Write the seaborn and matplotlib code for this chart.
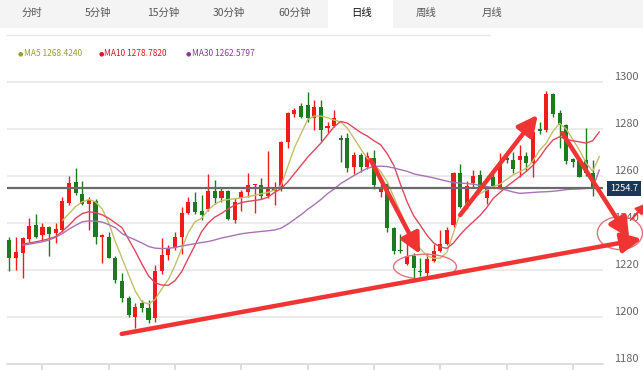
import numpy as np
import pandas as pd
import matplotlib
matplotlib.use('Agg')
import matplotlib.pyplot as plt
import matplotlib.transforms as mtransforms
from matplotlib.patches import Rectangle, Ellipse
import seaborn as sns

sns.set_style('white')
plt.rcParams['font.family'] = ['Noto Sans CJK SC', 'DejaVu Sans']

# 日线 K线数据 (开, 高, 低, 收)
open_ = [1232.8, 1225.0, 1227.1, 1233.2, 1239.1, 1234.9, 1238.2, 1235.9, 1237.0, 1248.7,
         1257.6, 1252.3, 1248.0, 1249.4, 1234.2, 1233.9, 1225.3, 1215.4, 1207.9, 1200.1,
         1206.0, 1203.7, 1199.4, 1219.6, 1226.4, 1229.2, 1234.2, 1244.4, 1248.8, 1245.1,
         1246.0, 1253.6, 1250.8, 1253.6, 1241.3, 1250.5, 1253.3, 1256.0, 1256.2, 1251.6,
         1253.8, 1254.5, 1274.6, 1286.2, 1289.9, 1290.2, 1284.5, 1289.5, 1280.3, 1281.4,
         1276.0, 1276.3, 1264.0, 1268.9, 1264.0, 1267.8, 1253.0, 1256.5, 1238.0, 1228.5,
         1222.6, 1226.1, 1219.3, 1218.9, 1224.0, 1228.2, 1230.9, 1239.1, 1261.1, 1246.9,
         1257.2, 1260.4, 1250.5, 1259.7, 1255.0, 1267.8, 1267.0, 1267.0, 1268.7, 1265.4,
         1279.9, 1279.6, 1294.8, 1286.7, 1281.7, 1267.2, 1267.0, 1266.7, 1261.1]
high = [1234.2, 1234.2, 1234.0, 1242.0, 1243.8, 1239.9, 1238.7, 1240.0, 1251.2, 1260.0,
        1263.3, 1258.0, 1251.2, 1250.1, 1235.5, 1236.3, 1226.0, 1218.6, 1209.0, 1205.8,
        1207.2, 1207.2, 1222.1, 1233.5, 1230.6, 1236.3, 1246.9, 1251.2, 1253.0, 1251.9,
        1260.7, 1258.3, 1255.0, 1254.0, 1250.5, 1254.0, 1261.1, 1256.6, 1259.0, 1270.6,
        1257.4, 1274.9, 1287.4, 1288.8, 1290.9, 1295.6, 1292.3, 1292.3, 1283.1, 1288.1,
        1277.4, 1278.2, 1270.3, 1269.6, 1270.3, 1271.1, 1257.0, 1256.9, 1238.4, 1235.2,
        1234.2, 1227.1, 1225.2, 1227.1, 1230.9, 1237.0, 1238.4, 1261.5, 1265.0, 1257.8,
        1262.5, 1262.5, 1255.5, 1260.7, 1269.6, 1269.2, 1270.3, 1273.2, 1270.3, 1279.2,
        1282.8, 1296.2, 1295.3, 1288.1, 1282.0, 1267.8, 1267.7, 1280.6, 1266.7]
low = [1219.6, 1220.0, 1216.7, 1232.0, 1233.5, 1232.8, 1226.1, 1231.3, 1236.3, 1247.7,
       1251.9, 1247.7, 1237.0, 1230.9, 1222.8, 1225.0, 1214.3, 1206.5, 1200.1, 1195.2,
       1202.3, 1197.3, 1197.7, 1218.2, 1224.3, 1228.5, 1226.7, 1243.7, 1243.7, 1241.3,
       1245.0, 1247.9, 1249.0, 1241.3, 1240.0, 1245.0, 1251.2, 1244.1, 1250.2, 1250.8,
       1247.7, 1253.7, 1271.8, 1285.2, 1284.5, 1283.1, 1279.6, 1274.9, 1278.2, 1281.0,
       1265.8, 1261.6, 1261.0, 1261.8, 1262.8, 1254.5, 1251.0, 1236.3, 1226.7, 1227.1,
       1222.1, 1214.8, 1217.6, 1217.6, 1223.6, 1227.8, 1230.6, 1238.4, 1246.5, 1245.8,
       1255.0, 1254.7, 1247.9, 1255.0, 1254.3, 1265.4, 1261.1, 1259.4, 1262.1, 1259.4,
       1277.8, 1278.9, 1285.2, 1271.8, 1265.0, 1264.0, 1259.4, 1260.1, 1251.5]
close = [1225.0, 1227.8, 1233.5, 1238.7, 1234.2, 1238.2, 1235.3, 1237.3, 1249.4, 1257.2,
         1252.6, 1248.1, 1249.8, 1234.2, 1234.8, 1225.2, 1215.7, 1208.0, 1200.9, 1204.4,
         1203.7, 1198.7, 1219.6, 1226.4, 1229.2, 1234.2, 1244.4, 1248.8, 1244.8, 1243.4,
         1253.6, 1250.5, 1253.6, 1241.6, 1249.1, 1253.3, 1256.2, 1256.5, 1251.6, 1254.5,
         1254.5, 1274.6, 1286.7, 1288.1, 1285.2, 1284.5, 1289.5, 1279.6, 1281.4, 1284.5,
         1275.3, 1263.5, 1268.9, 1264.0, 1268.5, 1256.2, 1255.0, 1237.7, 1228.1, 1228.1,
         1226.0, 1221.0, 1219.0, 1224.7, 1228.2, 1230.9, 1237.0, 1261.1, 1246.9, 1255.9,
         1260.1, 1255.4, 1254.5, 1255.7, 1265.4, 1266.8, 1263.0, 1268.7, 1265.4, 1278.9,
         1279.2, 1294.8, 1286.2, 1281.7, 1266.4, 1265.8, 1259.7, 1261.3, 1254.7]

# 均线
ma5_start = 8
ma5 = [1241, 1244, 1247, 1249, 1250, 1249, 1246, 1240, 1232, 1225, 1218, 1211, 1206.5,
       1205.5, 1207.5, 1212, 1216, 1222, 1229, 1236, 1240.5, 1242, 1245.5, 1248, 1249.5,
       1250, 1250.3, 1250.7, 1251.2, 1251.8, 1252.4, 1253, 1254, 1256, 1264, 1272, 1278,
       1284, 1285.5, 1285.5, 1284.8, 1283.8, 1283, 1280.3, 1276, 1271.5, 1267.5, 1265,
       1262, 1257.5, 1251, 1244.5, 1238, 1233, 1229, 1226, 1225, 1225, 1227.5, 1236, 1244,
       1248.5, 1250.5, 1252.5, 1254, 1255.5, 1256.5, 1258.5, 1260.5, 1261.8, 1263.3,
       1266.5, 1271, 1274, 1279, 1282.4, 1280, 1275.5, 1271, 1265.5, 1262, 1268.4]
ma10_start = 2
ma10 = [1231, 1231.5, 1232, 1232.6, 1233.3, 1234.2, 1236.5, 1239, 1242, 1244, 1244.8,
        1244.4, 1243.5, 1242, 1240, 1238, 1233, 1228, 1222.5, 1217.5, 1214.5, 1213.6,
        1213.5, 1215.5, 1219.3, 1225, 1230.5, 1236.3, 1240, 1242.5, 1244.1, 1246, 1247.6,
        1248.7, 1249.2, 1249.6, 1250, 1251, 1253, 1254.6, 1257.5, 1261, 1264.5, 1268,
        1271, 1274, 1277.5, 1281, 1283.2, 1282.5, 1280.5, 1278.5, 1277, 1275, 1273.3,
        1269.5, 1264.5, 1256.5, 1249, 1243, 1239, 1234.8, 1231.5, 1229.8, 1229.2, 1231.5,
        1235, 1238, 1240.6, 1243.2, 1246.5, 1250.5, 1253, 1255.5, 1257.6, 1259.8, 1262,
        1264.6, 1268, 1272, 1275.3, 1276.7, 1275.6, 1275, 1274.5, 1274, 1275, 1278.8]
ma30_start = 2
ma30 = [1230.5, 1231, 1231.5, 1232, 1232.8, 1233.9, 1235.5, 1237.4, 1239, 1240.5, 1240.9,
        1240.8, 1240.4, 1239.3, 1238, 1235.5, 1234, 1232.8, 1231.5, 1230, 1229.3, 1229.1,
        1229.2, 1229.6, 1230.2, 1230.7, 1231.2, 1231.7, 1232.1, 1232.8, 1233.6, 1234.2,
        1234.8, 1235.4, 1235.8, 1236.1, 1236.4, 1236.7, 1237, 1237.8, 1239.5, 1241.5,
        1243.5, 1245.8, 1247.8, 1250, 1252.5, 1254.5, 1256.8, 1258.5, 1260.2, 1261.8,
        1263.3, 1264, 1264.2, 1264, 1263.4, 1262.7, 1262, 1260.9, 1260.3, 1259.8, 1259.2,
        1258.5, 1257.8, 1257.2, 1257, 1256.8, 1256.5, 1256, 1255.5, 1255, 1254.6, 1254,
        1253.2, 1252.6, 1252.8, 1253, 1253.2, 1253.3, 1253.5, 1253.8, 1254.2, 1254.4,
        1254.5, 1254.7, 1254.8, 1262.6]

tabs = ['分时', '5分钟', '15分钟', '30分钟', '60分钟', '日线', '周线', '月线']
tab_x = [32, 98, 163, 229, 295, 362, 426, 492]
selected_tab = '日线'
legend_labels = ['MA5 1268.4240', 'MA10 1278.7820', 'MA30 1262.5797']
y_ticks = [1180, 1200, 1220, 1240, 1260, 1280, 1300]
last_price = 1254.7

# 手绘标注 (K线序号, 价格)
arrows = [((16.95, 1192.8), (95.4, 1233.2)),
          ((54.5, 1266.8), (61.95, 1226.8)),
          ((68.0, 1243.4), (79.7, 1286.0)),
          ((83.4, 1278.3), (93.5, 1233.6))]
small_arrow = ((93.9, 1241.7), (96.0, 1248.3))
circles = [((62.7, 1221.4), 9.5, 10.6), ((92.1, 1235.7), 6.8, 14.0)]

red = '#f21b1b'
green = '#1e7a1e'
ma_colors = ['#c2bf6a', '#e2465e', '#a873b4']
legend_colors = ['#98a032', '#e3151d', '#8b3b96']

W, H = 643, 370
fig = plt.figure(figsize=(W / 100, H / 100), dpi=100)

# 顶部标签栏
fig.add_artist(Rectangle((0, 1 - 28 / H), 1, 28 / H, transform=fig.transFigure,
                         fc='#f4f4f4', ec='none'))
fig.add_artist(Rectangle((328 / W, 1 - 28 / H), 65 / W, 28 / H, transform=fig.transFigure,
                         fc='white', ec='none'))
for name, tx in zip(tabs, tab_x):
    fig.text(tx / W, 1 - 13 / H, name, ha='center', va='center', fontsize=7.5,
             color='#111111' if name == selected_tab else '#555555')
fig.add_artist(plt.Line2D([7 / W, 490 / W], [1 - 35 / H] * 2, transform=fig.transFigure,
                          color='#e6e6e6', lw=1))

# 均线图例
for lab, col, dx in zip(legend_labels, legend_colors, [20, 101, 188]):
    fig.text(dx / W, 1 - 54 / H, '●', ha='center', va='center', fontsize=4.5,
             color=col, family='DejaVu Sans')
    fig.text((dx + 3.5) / W, 1 - 54 / H, lab, ha='left', va='center', fontsize=6,
             color=col)

ax = fig.add_axes([7 / W, 6 / H, 596 / W, 294 / H])
ax.set_xlim(-0.35, 89.55)
ax.set_ylim(1180, 1305.1)
ax.axis('off')

for v in y_ticks[1:]:
    ax.axhline(v, color='#e8e8e8', lw=1.2, zorder=0)
ax.axhline(1180, color='#d8d8d8', lw=1.2, zorder=0, clip_on=False)
ax.vlines(np.arange(5, 89, 10), 1177.4, 1180, color='#d8d8d8', lw=1.2, clip_on=False)

# K线
idx = np.arange(len(close))
o = np.array(open_)
c = np.array(close)
cols = [red if cc >= oo else green for oo, cc in zip(o, c)]
ax.vlines(idx, low, high, colors=cols, lw=1, zorder=2)
ax.bar(idx, np.maximum(np.abs(c - o), 0.4), bottom=np.minimum(o, c), width=0.62,
       color=cols, zorder=3, linewidth=0)

# 均线
for start, vals, col in zip([ma5_start, ma10_start, ma30_start], [ma5, ma10, ma30], ma_colors):
    sns.lineplot(x=np.arange(start, start + len(vals)), y=vals, ax=ax, color=col,
                 linewidth=1, zorder=4)

# 现价线
ax.axhline(last_price, color='#6a6a6a', lw=1.6, zorder=5)

# y轴刻度
ytrans = mtransforms.blended_transform_factory(ax.transAxes, ax.transData)
for v in y_ticks:
    ax.text(1.019, v + 2.1, str(v), transform=ytrans, ha='left', va='center',
            fontsize=8, color='#666666', clip_on=False)
ax.text(1.012, last_price, f'{last_price}', transform=ytrans, ha='left', va='center',
        fontsize=6.6, color='white', clip_on=False, zorder=7,
        bbox=dict(boxstyle='square,pad=0.3', fc='#1c3655', ec='none'))

# 标注箭头和圈
for (x0, y0), (x1, y1) in arrows:
    ax.annotate('', xy=(x1, y1), xytext=(x0, y0), annotation_clip=False, zorder=8,
                arrowprops=dict(arrowstyle='-|>,head_length=1.0,head_width=0.5',
                                color='#f03434', lw=3.2, mutation_scale=12,
                                shrinkA=0, shrinkB=0))
ax.annotate('', xy=small_arrow[1], xytext=small_arrow[0], annotation_clip=False, zorder=8,
            arrowprops=dict(arrowstyle='-|>,head_length=0.6,head_width=0.3',
                            color='#f03434', lw=1.5, mutation_scale=10,
                            shrinkA=0, shrinkB=0))
for (cx, cy), w, h in circles:
    ax.add_patch(Ellipse((cx, cy), w, h, fill=False, ec='#e2727c', lw=1, clip_on=False,
                         zorder=6))

fig.savefig('out.png', dpi=100)
